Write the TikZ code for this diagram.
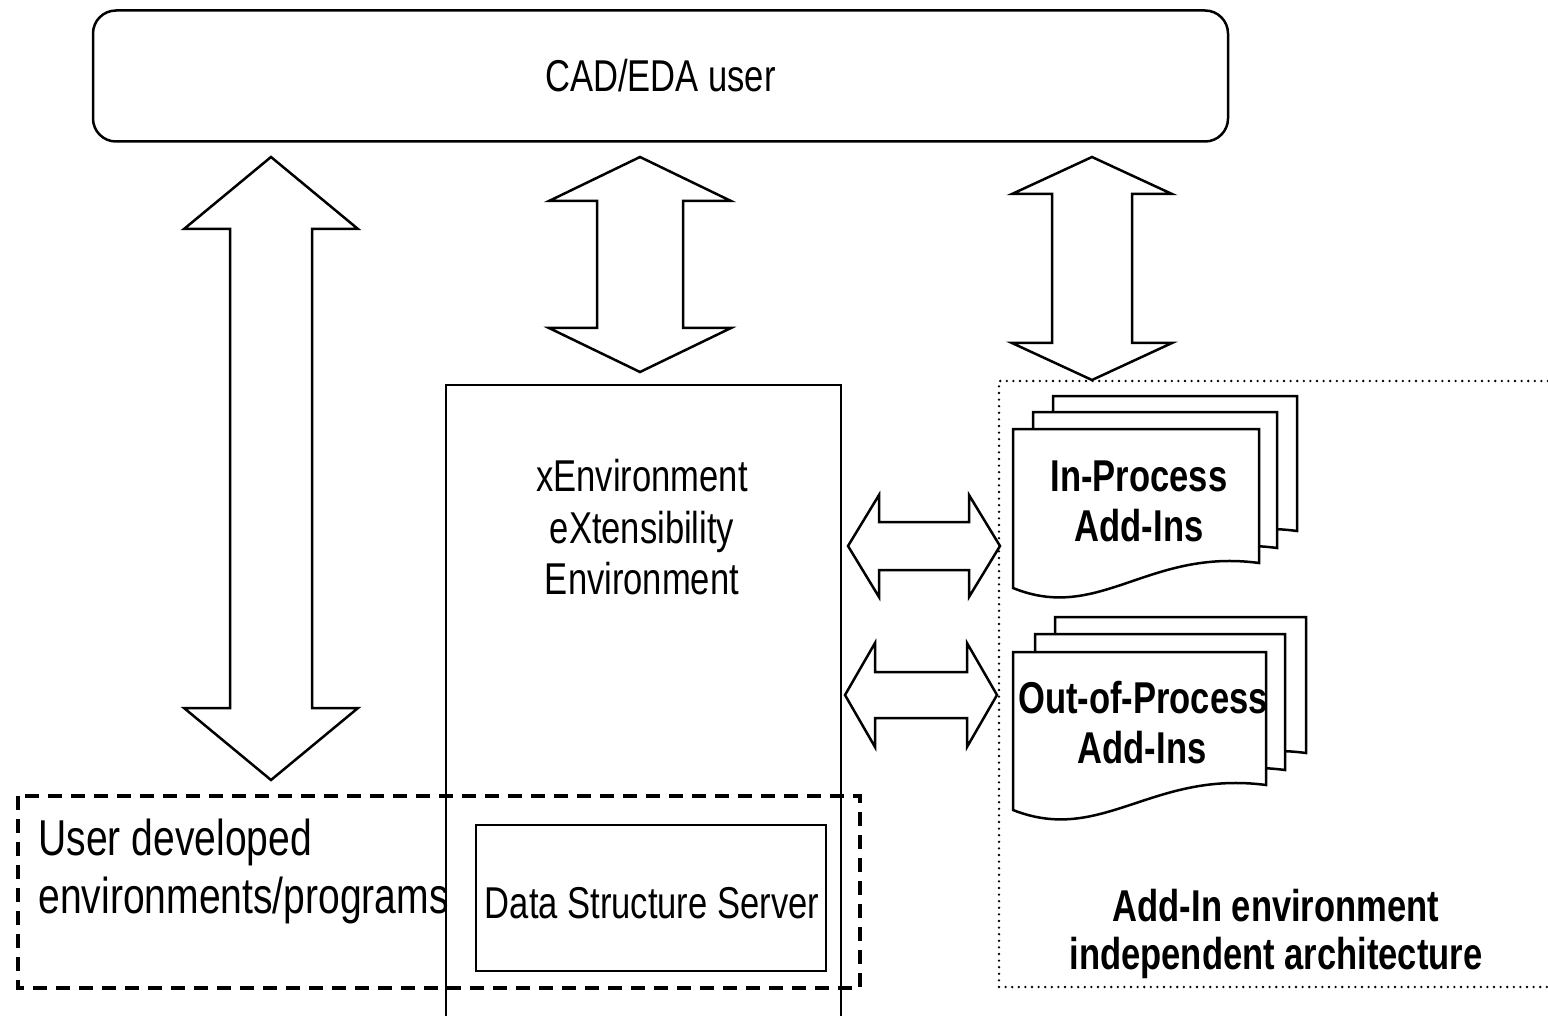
\documentclass[tikz,border=0pt]{standalone}
\usepackage{fontspec}
\setmainfont{Liberation Sans}[FakeStretch=0.775]
\begin{document}
\begin{tikzpicture}[x=0.5pt,y=-0.5pt,line join=miter,
  outline/.style={draw=black,line width=1.25pt},
  blockarrow/.style={outline,fill=white},
  sheet/.style={outline,fill=white},
  label/.style={inner sep=0pt,font=\fontsize{22.3}{26}\selectfont},
  boldlabel/.style={inner sep=0pt,font=\fontsize{22.3}{26}\selectfont\bfseries},
  biglabel/.style={inner sep=0pt,font=\fontsize{25.2}{29}\selectfont},
  dashedframe/.style={draw=black,line width=1.6pt,dash pattern=on 7pt off 4.5pt},
  dottedframe/.style={draw=black,line width=1.3pt,line cap=round,dash pattern=on 0pt off 3.3pt}]

% vertical double block arrow: centre x, top tip y, bottom tip y, head half width, shaft half width, head length
\newcommand\vblockarrow[6]{%
  \draw[blockarrow] (#1,#2) -- ({#1+#4},{#2+#6}) -- ({#1+#5},{#2+#6}) -- ({#1+#5},{#3-#6})
    -- ({#1+#4},{#3-#6}) -- (#1,#3) -- ({#1-#4},{#3-#6}) -- ({#1-#5},{#3-#6})
    -- ({#1-#5},{#2+#6}) -- ({#1-#4},{#2+#6}) -- cycle;}
% horizontal double block arrow: centre y, left tip x, right tip x, head half height, shaft half height, head length
\newcommand\hblockarrow[6]{%
  \draw[blockarrow] (#2,#1) -- ({#2+#6},{#1-#4}) -- ({#2+#6},{#1-#5}) -- ({#3-#6},{#1-#5})
    -- ({#3-#6},{#1-#4}) -- (#3,#1) -- ({#3-#6},{#1+#4}) -- ({#3-#6},{#1+#5})
    -- ({#2+#6},{#1+#5}) -- ({#2+#6},{#1+#4}) -- cycle;}
% add-in sheet with a wavy lower edge: left x, top y, right x, lower right y
\newcommand\addinsheet[4]{%
  \pgfmathsetmacro\sheetw{#3-#1}%
  \draw[sheet] (#1,#2) -- (#3,#2) -- (#3,#4)
    .. controls ({#1+0.55*\sheetw},{#4-15}) and ({#1+0.35*\sheetw},{#4+60}) .. (#1,{#4+25}) -- cycle;}

\path[use as bounding box,fill=white] (0,0) rectangle (1548,1016);

% user
\node[outline,rounded corners=11.5pt,minimum width=567.5pt,minimum height=65.5pt,
      label] (user) at (660.5,76) {CAD/EDA user};

% links to the user
\vblockarrow{271}{157}{780}{87}{41}{72}
\vblockarrow{640}{157}{372}{91}{43}{44}
\vblockarrow{1092}{157}{380}{80}{40}{37}

% eXtensibility environment column
\draw[outline,line width=1.1pt] (446,1016) -- (446,385) -- (841,385) -- (841,1016);
\node[label,anchor=base] (xenv1) at (642,491) {xEnvironment};
\node[label,anchor=base] (xenv2) at (642,543) {eXtensibility};
\node[label,anchor=base] (xenv3) at (642,594) {Environment};

% data structure server
\node[draw=black,line width=1.35pt,minimum width=175pt,minimum height=73pt,inner sep=0pt]
  (dss) at (651,898) {};
\node[label,anchor=base] (dsstext) at (652,918) {Data Structure Server};

% user developed programs
\draw[dashedframe] (18,796) rectangle (860,988);
\node[biglabel,anchor=base west] (udev1) at (38,855) {User developed};
\node[biglabel,anchor=base west] (udev2) at (38,913) {environments/programs};

% add-in area
\draw[dottedframe] (1548,381) -- (999,381) -- (999,987) -- (1548,987);
\hblockarrow{546}{848}{1000}{51}{24}{31}
\hblockarrow{695}{845}{997}{52}{23}{30}

\addinsheet{1053}{396}{1297}{531}
\addinsheet{1033}{412}{1277}{548}
\addinsheet{1013}{429}{1259}{563}
\node[boldlabel,anchor=base] (inproc1) at (1139,491) {In-Process};
\node[boldlabel,anchor=base] (inproc2) at (1139,541) {Add-Ins};

\addinsheet{1055}{617}{1306}{753}
\addinsheet{1035}{634}{1285}{770}
\addinsheet{1013}{652}{1266}{785}
\node[boldlabel,anchor=base] (outproc1) at (1143,713) {Out-of-Process};
\node[boldlabel,anchor=base] (outproc2) at (1142,763) {Add-Ins};

\node[boldlabel,anchor=base] (arch1) at (1276,921) {Add-In environment};
\node[boldlabel,anchor=base] (arch2) at (1276,969) {independent architecture};
\end{tikzpicture}
\end{document}
